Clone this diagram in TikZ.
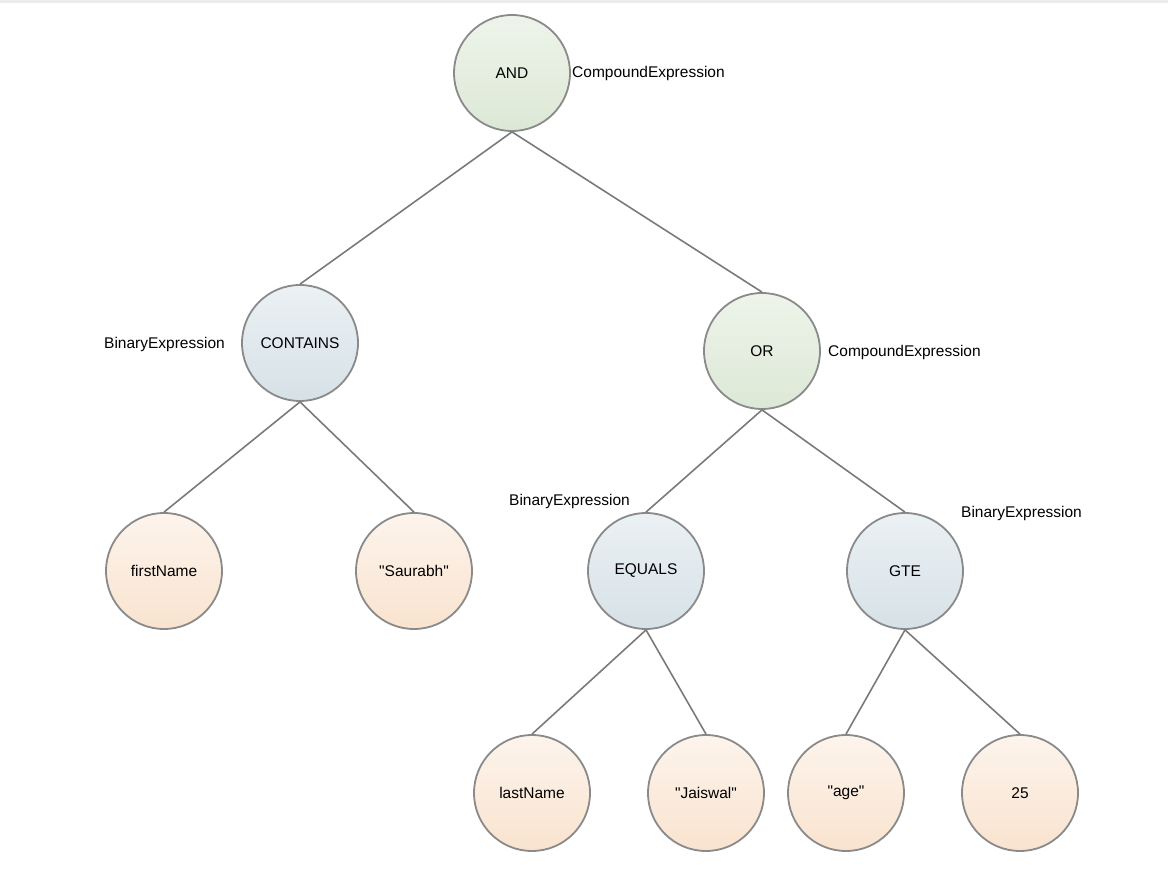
\documentclass[tikz,border=0pt]{standalone}
\usepackage{fontspec}
\setmainfont{Liberation Sans}[Ligatures=TeXOff]
\definecolor{edgegray}{HTML}{7A7A7A}
\definecolor{bordergray}{HTML}{8A8A8A}
\definecolor{gtop}{HTML}{EEF4EA}
\definecolor{gbot}{HTML}{DCE8D6}
\definecolor{btop}{HTML}{EBF1F4}
\definecolor{bbot}{HTML}{D6E1E7}
\definecolor{otop}{HTML}{FDF4EC}
\definecolor{obot}{HTML}{F9E3CF}
\begin{document}
\begin{tikzpicture}[x=1pt,y=-1pt,
  every node/.style={font=\fontsize{15.5}{18}\selectfont},
  tnode/.style={circle, draw=bordergray, line width=1.8pt, minimum size=116pt, inner sep=0pt},
  compound/.style={tnode, top color=gtop, bottom color=gbot},
  binary/.style={tnode, top color=btop, bottom color=bbot},
  leaf/.style={tnode, top color=otop, bottom color=obot},
  edge/.style={draw=edgegray, line width=1.6pt},
  lbl/.style={inner sep=0pt}]
\useasboundingbox (0,0) rectangle (1168,882);
\fill[gray!15] (0,0) rectangle (1168,3);
% nodes
\node[compound] (and) at (512,73) {AND};
\node[binary] (contains) at (300,343) {CONTAINS};
\node[compound] (or) at (762,351) {OR};
\node[leaf] (first) at (164,571) {firstName};
\node[leaf] (saurabh) at (414,571) {"Saurabh"};
\node[binary] (equals) at (646,571) {EQUALS};
\node[binary] (gte) at (905,571) {GTE};
\node[leaf] (last) at (532,793) {lastName};
\node[leaf] (jaiswal) at (706,793) {"Jaiswal"};
\node[leaf] (age) at (846,793) {"age"};
\node[leaf] (n25) at (1020,793) {25};
% labels
\node[lbl, anchor=west] (l1) at (572,73) {CompoundExpression};
\node[lbl, anchor=east] (l2) at (225,344) {BinaryExpression};
\node[lbl, anchor=west] (l3) at (828,352) {CompoundExpression};
\node[lbl, anchor=west] (l4) at (509,501) {BinaryExpression};
\node[lbl, anchor=west] (l5) at (961,513) {BinaryExpression};
% edges
\draw[edge] (and.south) -- (contains.north);
\draw[edge] (and.south) -- (or.north);
\draw[edge] (contains.south) -- (first.north);
\draw[edge] (contains.south) -- (saurabh.north);
\draw[edge] (or.south) -- (equals.north);
\draw[edge] (or.south) -- (gte.north);
\draw[edge] (equals.south) -- (last.north);
\draw[edge] (equals.south) -- (jaiswal.north);
\draw[edge] (gte.south) -- (age.north);
\draw[edge] (gte.south) -- (n25.north);
\end{tikzpicture}
\end{document}
